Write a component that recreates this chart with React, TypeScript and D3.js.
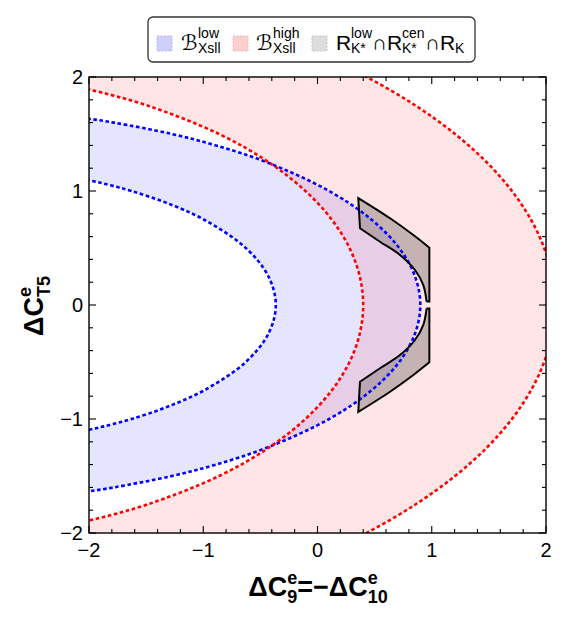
import React from "react";
import * as d3 from "d3";

type P = [number, number];

// upper halves of the contour curves (x = ΔC9, y = ΔCT5); mirrored about y=0
const blueInner: P[] = [[-2.293, 1.15], [-1.999, 1.094], [-1.812, 1.05], [-1.629, 1.0], [-1.332, 0.9], [-0.996, 0.75], [-0.628, 0.5], [-0.429, 0.25], [-0.365, 0]];
const blueOuter: P[] = [[-2.61, 1.7], [-2.005, 1.634], [-1.783, 1.6], [-1.275, 1.5], [-0.889, 1.4], [-0.439, 1.25], [0.102, 1.0], [0.471, 0.75], [0.715, 0.5], [0.854, 0.25], [0.9, 0]];
const redInner: P[] = [[-2.285, 1.95], [-1.998, 1.89], [-1.49, 1.75], [-0.862, 1.5], [-0.424, 1.25], [-0.106, 1.0], [0.124, 0.75], [0.28, 0.5], [0.37, 0.25], [0.4, 0]];
const redOuter: P[] = [[0.016, 2.2], [0.43, 2.0], [0.857, 1.75], [1.204, 1.5], [1.483, 1.25], [1.702, 1.0], [1.868, 0.75], [1.984, 0.5], [2.052, 0.25], [2.075, 0]];

// grey allowed region (upper piece), mirrored for lower piece
const greyUpperEdge: P[] = [[0.357, 0.938], [0.635, 0.761], [0.839, 0.614], [0.979, 0.503]];
const greyRightEdge: P[] = [[0.979, 0.503], [0.979, 0.03], [0.955, 0.03]];
const greyInnerEdge: P[] = [[0.955, 0.03], [0.926, 0.175], [0.853, 0.307], [0.722, 0.439], [0.547, 0.555], [0.372, 0.673]];

const majorTicks = [-2, -1, 0, 1, 2];
const minorTicks = d3.range(-20, 21, 2).map((v) => v / 10);
const tickLabels = ["\u22122", "\u22121", "0", "1", "2"];

const X0 = 89, X1 = 546, Y0 = 77, Y1 = 533;
const FONT = "'Liberation Sans', Arial, Helvetica, sans-serif";

function mirror(upper: P[]): P[] {
  return [...upper, ...upper.slice(0, -1).reverse().map(([a, b]) => [a, -b] as P)];
}

export default function App() {
  const x = d3.scaleLinear().domain([-2, 2]).range([X0, X1]);
  const y = d3.scaleLinear().domain([-2, 2]).range([Y1, Y0]);
  const smooth = d3.line<P>().x((d) => x(d[0])).y((d) => y(d[1])).curve(d3.curveCatmullRom.alpha(0.5));
  const cont = (s: string | null) => (s || "").replace(/^M/, "L");
  const lineTo = (p: P) => `L${x(p[0])},${y(p[1])}`;

  const bInF = mirror(blueInner);
  const bOutF = mirror(blueOuter);
  const rInF = mirror(redInner);
  const rOutF = mirror(redOuter);

  const blueBand = smooth(bOutF) + cont(smooth([...bInF].reverse())) + "Z";
  const redBand =
    smooth(rOutF) +
    lineTo([-2.6, -2.3]) +
    cont(smooth([...rInF].reverse())) +
    lineTo([-2.6, 2.3]) +
    "Z";

  const greyPath = (sgn: number) => {
    const f = (pts: P[]) => pts.map(([a, b]) => [a, sgn * b] as P);
    const right = f(greyRightEdge);
    return (
      smooth(f(greyUpperEdge)) +
      right.slice(1).map(lineTo).join("") +
      cont(smooth(f(greyInnerEdge))) +
      "Z"
    );
  };

  const dash = "3.6,2.6";
  const tickFs = 20;

  return (
    <svg width={571} height={621} style={{ position: "absolute", left: 0, top: 0, background: "#fff" }} fontFamily={FONT}>
      <defs>
        <clipPath id="plotClip">
          <rect x={X0} y={Y0} width={X1 - X0} height={Y1 - Y0} />
        </clipPath>
      </defs>
      <g clipPath="url(#plotClip)">
        <path d={blueBand} fill="#0000ff" fillOpacity={0.1} />
        <path d={redBand} fill="#ff0000" fillOpacity={0.1} />
        <path d={greyPath(1)} fill="#8c8080" fillOpacity={0.5} />
        <path d={greyPath(-1)} fill="#8c8080" fillOpacity={0.5} />
        <path d={smooth(bInF) || ""} fill="none" stroke="#0000ff" strokeWidth={2.6} strokeDasharray={dash} />
        <path d={smooth(bOutF) || ""} fill="none" stroke="#0000ff" strokeWidth={2.6} strokeDasharray={dash} />
        <path d={smooth(rInF) || ""} fill="none" stroke="#ff0000" strokeWidth={2.6} strokeDasharray={dash} />
        <path d={smooth(rOutF) || ""} fill="none" stroke="#ff0000" strokeWidth={2.6} strokeDasharray={dash} />
        <path d={greyPath(1)} fill="none" stroke="#000" strokeWidth={2} strokeLinejoin="miter" />
        <path d={greyPath(-1)} fill="none" stroke="#000" strokeWidth={2} strokeLinejoin="miter" />
      </g>

      {/* frame */}
      <rect x={X0} y={Y0} width={X1 - X0} height={Y1 - Y0} fill="none" stroke="#000" strokeWidth={1.4} />
      {/* ticks */}
      {minorTicks.map((t, i) => {
        const major = majorTicks.some((m) => Math.abs(m - t) < 1e-9);
        const L = major ? 7 : 4;
        return (
          <g key={i} stroke="#000" strokeWidth={1.1}>
            <line x1={x(t)} x2={x(t)} y1={Y1} y2={Y1 - L} />
            <line x1={x(t)} x2={x(t)} y1={Y0} y2={Y0 + L} />
            <line y1={y(t)} y2={y(t)} x1={X0} x2={X0 + L} />
            <line y1={y(t)} y2={y(t)} x1={X1} x2={X1 - L} />
          </g>
        );
      })}
      {majorTicks.map((t, i) => (
        <text key={"xl" + i} x={x(t)} y={557} textAnchor="middle" fontSize={tickFs} fill="#000">
          {tickLabels[i]}
        </text>
      ))}
      {majorTicks.map((t, i) => (
        <text key={"yl" + i} x={83} y={y(t) + 7} textAnchor="end" fontSize={tickFs} fill="#000">
          {tickLabels[i]}
        </text>
      ))}

      {/* x axis label */}
      <text x={318} y={596} textAnchor="middle" fontSize={27} fontWeight="bold" fill="#000">
        <tspan>ΔC</tspan>
        <tspan fontSize={18} dy={-12}>e</tspan>
        <tspan fontSize={18} dx={-10} dy={19}>9</tspan>
        <tspan dy={-7}>=−ΔC</tspan>
        <tspan fontSize={18} dy={-12}>e</tspan>
        <tspan fontSize={18} dx={-10} dy={19}>10</tspan>
      </text>

      {/* y axis label */}
      <text transform="translate(43,306) rotate(-90)" textAnchor="middle" fontSize={27} fontWeight="bold" fill="#000">
        <tspan>ΔC</tspan>
        <tspan fontSize={18} dy={-12}>e</tspan>
        <tspan fontSize={18} dx={-10} dy={19}>T5</tspan>
      </text>

      {/* legend */}
      <rect x={148} y={17} width={327} height={45} rx={5} fill="#fff" stroke="#333" strokeWidth={1.3} />
      <rect x={157} y={36} width={15} height={15} fill="#cfcffc" stroke="#b4b4f4" strokeDasharray="2,1.5" />
      <rect x={233} y={36} width={15} height={15} fill="#fccfcf" stroke="#f4b4b4" strokeDasharray="2,1.5" />
      <rect x={312} y={36} width={15} height={15} fill="#dddddd" stroke="#c4c4c4" strokeDasharray="2,1.5" />
      <g fill="#000" fontSize={21}>
        <text x={181} y={50} fontFamily="'DejaVu Serif', 'DejaVu Sans', serif" fontStyle="italic">ℬ</text>
        <text x={198} y={38} fontSize={14}>low</text>
        <text x={198} y={53} fontSize={14}>Xsll</text>
        <text x={256} y={50} fontFamily="'DejaVu Serif', 'DejaVu Sans', serif" fontStyle="italic">ℬ</text>
        <text x={273} y={38} fontSize={14}>high</text>
        <text x={273} y={53} fontSize={14}>Xsll</text>
        <text x={336} y={50}>R</text>
        <text x={351} y={38} fontSize={14}>low</text>
        <text x={351} y={53} fontSize={14}>K*</text>
        <text x={372} y={50}>∩R</text>
        <text x={402} y={38} fontSize={14}>cen</text>
        <text x={402} y={53} fontSize={14}>K*</text>
        <text x={425} y={50}>∩R</text>
        <text x={455} y={53} fontSize={14}>K</text>
      </g>
    </svg>
  );
}
